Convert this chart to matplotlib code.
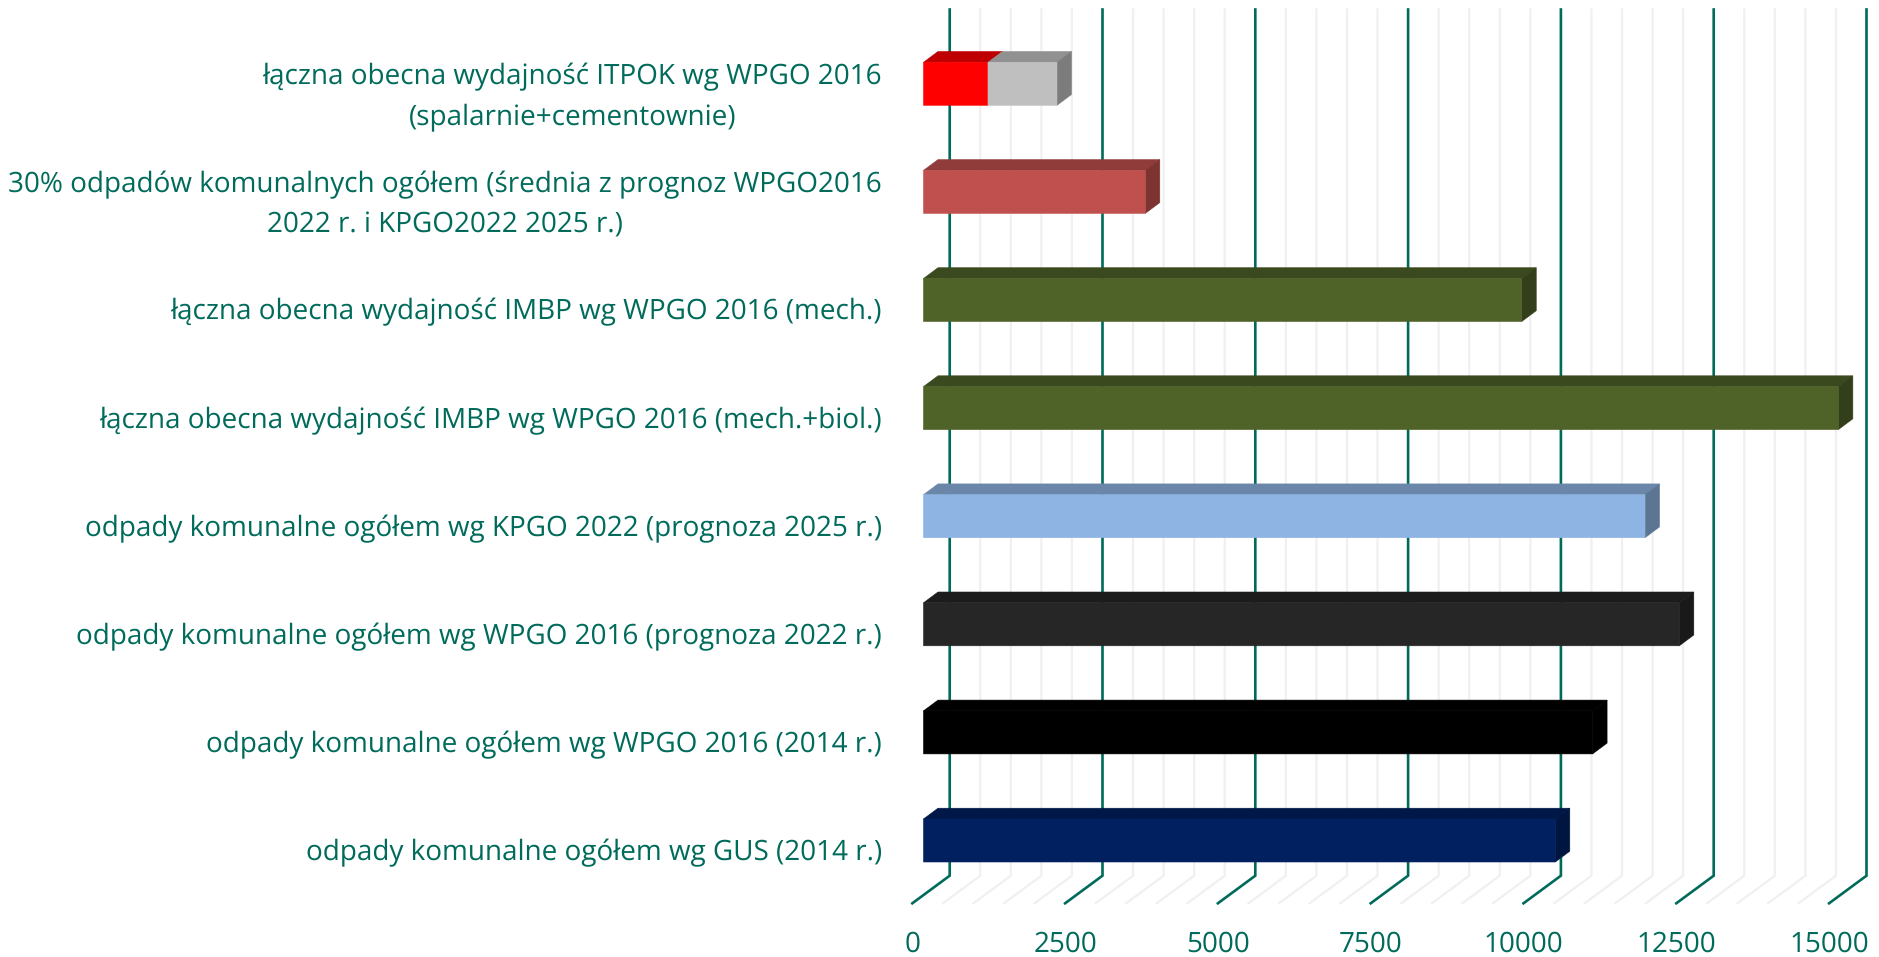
import matplotlib
matplotlib.use('Agg')
import matplotlib.pyplot as plt
from matplotlib.patches import Polygon
from matplotlib.transforms import ScaledTranslation

categories = [
    'łączna obecna wydajność ITPOK wg WPGO 2016\n(spalarnie+cementownie)',
    '30% odpadów komunalnych ogółem (średnia z prognoz WPGO2016\n2022 r. i KPGO2022 2025 r.)',
    'łączna obecna wydajność IMBP wg WPGO 2016 (mech.)',
    'łączna obecna wydajność IMBP wg WPGO 2016 (mech.+biol.)',
    'odpady komunalne ogółem wg KPGO 2022 (prognoza 2025 r.)',
    'odpady komunalne ogółem wg WPGO 2016 (prognoza 2022 r.)',
    'odpady komunalne ogółem wg WPGO 2016 (2014 r.)',
    'odpady komunalne ogółem wg GUS (2014 r.)',
]
first_values = [1055, 3629, 9788, 14968, 11805, 12366, 10947, 10337]
second_values = [1129, 0, 0, 0, 0, 0, 0, 0]
major_ticks = [0, 2500, 5000, 7500, 10000, 12500, 15000]
minor_ticks = [v for v in range(0, 15001, 500) if v % 2500 != 0]

# front, top, side
first_colors = [
    ('#FF0000', '#BF0000', '#BF0000'),
    ('#C0504D', '#903C3A', '#7D3430'),
    ('#4F6228', '#3B491E', '#333F1A'),
    ('#4F6228', '#3B491E', '#333F1A'),
    ('#8DB4E2', '#6A87AA', '#5C7593'),
    ('#262626', '#1C1C1C', '#191919'),
    ('#000000', '#000000', '#000000'),
    ('#002060', '#001848', '#00153F'),
]
second_colors = ('#BFBFBF', '#919191', '#7C7C7C')
TEAL = '#006B5B'

W, H, DPI = 1879, 957, 100
PX_PER_UNIT = 0.06112
LEFT_PX = 923.5
RIGHT_PX = LEFT_PX + 15000 * PX_PER_UNIT
ROW_PX = 108.1
FIRST_ROW_PX = 83.8
TOP_PX = FIRST_ROW_PX - 0.5 * ROW_PX
BOTTOM_PX = FIRST_ROW_PX + 7.5 * ROW_PX

plt.rcParams['font.family'] = ['Open Sans', 'DejaVu Sans']
plt.rcParams['text.hinting'] = 'no_hinting'

fig = plt.figure(figsize=(W / DPI, H / DPI), dpi=DPI)
ax = fig.add_axes([LEFT_PX / W, 1 - BOTTOM_PX / H, (RIGHT_PX - LEFT_PX) / W, (BOTTOM_PX - TOP_PX) / H])
ax.set_xlim(0, 15000)
ax.set_ylim(7.5, -0.5)
for s in ax.spines.values():
    s.set_visible(False)


def px_x(p):
    return p / PX_PER_UNIT


def px_y(p):
    return p / ROW_PX


# back wall and floor lines
wall_x = px_x(26.2)
floor_x = px_x(-11.2)
wall_top = (9.5 - FIRST_ROW_PX) / ROW_PX
wall_bottom = (875.7 - FIRST_ROW_PX) / ROW_PX
floor_front = (903.3 - FIRST_ROW_PX) / ROW_PX

for ticks, color, lw in [(minor_ticks, '#F0F0F0', 1.6), (major_ticks, TEAL, 1.9)]:
    for v in ticks:
        ax.plot([v + wall_x, v + wall_x, v + floor_x], [wall_top, wall_bottom, floor_front],
                color=color, lw=lw, clip_on=False, zorder=1, solid_joinstyle='miter')

# bars with fake depth
bar_h = px_y(43)
dx = px_x(14.5)
dy = px_y(10.8)


def draw_box(start, end, row, colors, show_side):
    top = row - bar_h / 2
    bottom = row + bar_h / 2
    front, top_c, side = colors
    ax.add_patch(Polygon([(start, top), (start + dx, top - dy), (end + dx, top - dy), (end, top)],
                         facecolor=top_c, edgecolor=top_c, lw=0.4, clip_on=False, zorder=3, snap=False))
    if show_side:
        ax.add_patch(Polygon([(end, top), (end + dx, top - dy), (end + dx, bottom - dy), (end, bottom)],
                             facecolor=side, edgecolor=side, lw=0.4, clip_on=False, zorder=3, snap=False))
    ax.add_patch(Polygon([(start, bottom), (start, top), (end, top), (end, bottom)],
                         facecolor=front, edgecolor=front, lw=0.4, clip_on=False, zorder=3, snap=False))


for i, (a, b) in enumerate(zip(first_values, second_values)):
    draw_box(0, a, i, first_colors[i], b == 0)
    if b:
        draw_box(a, a + b, i, second_colors, True)

ax.set_yticks(range(len(categories)))
ax.set_yticklabels(categories, fontsize=20.1, color=TEAL, linespacing=1.56, ma='center')
ax.set_xticks(major_ticks)
ax.set_xticklabels([str(v) for v in major_ticks], fontsize=20.1, color=TEAL)
ax.tick_params(axis='both', length=0)
ax.tick_params(axis='y', pad=41.5 * 72 / DPI)
ax.tick_params(axis='x', pad=36 * 72 / DPI)

x_shift = ScaledTranslation(-11.2 / DPI, 0, fig.dpi_scale_trans)
for t in ax.get_xticklabels():
    t.set_transform(t.get_transform() + x_shift)
for t in ax.get_yticklabels():
    # two-line labels sit a bit higher
    shift = -4 if '\n' in t.get_text() else -9
    t.set_transform(t.get_transform() + ScaledTranslation(0, shift / DPI, fig.dpi_scale_trans))

fig.savefig('out.png', dpi=DPI, facecolor='white')
